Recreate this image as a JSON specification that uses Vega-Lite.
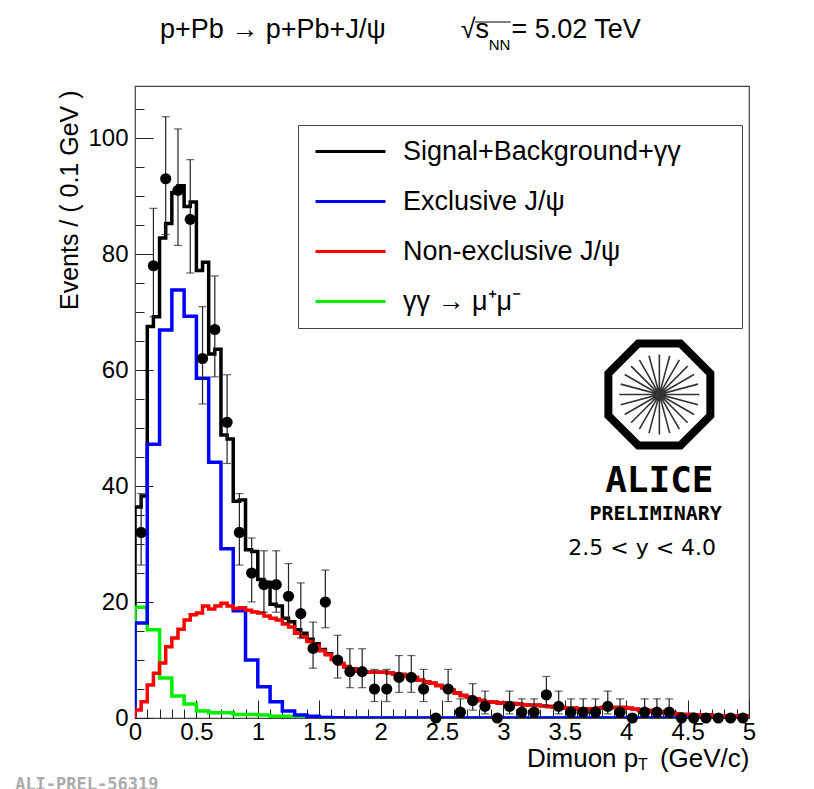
{
  "$schema": "https://vega.github.io/schema/vega-lite/v6.json",
  "width": 614,
  "height": 632,
  "autosize": {"type": "none"},
  "padding": {"left": 135, "top": 86, "right": 65, "bottom": 71},
  "background": "white",
  "config": {"view": {"stroke": "#444", "strokeWidth": 1.2}, "font": "Liberation Sans"},
  "title": {"text": "p+Pb → p+Pb+J/ψ\u00a0\u00a0\u00a0\u00a0\u00a0\u00a0\u00a0\u00a0\u00a0\u00a0√s\u00a0\u00a0\u00a0= 5.02 TeV", "fontSize": 27, "fontWeight": "normal", "font": "Liberation Sans", "color": "black", "anchor": "start", "frame": "group", "baseline": "alphabetic", "dx": 25, "offset": -43.6},
  "datasets": {
    "curves": [
      {"i":0,"x":0,"tot":0,"exc":0,"non":0,"gg":0},
      {"i":1,"x":0,"tot":36.4,"exc":16.4,"non":1.4,"gg":19.1},
      {"i":2,"x":0.05,"tot":38.3,"exc":16.4,"non":2.8,"gg":19.1},
      {"i":3,"x":0.1,"tot":67.5,"exc":47.2,"non":5.7,"gg":15.2},
      {"i":4,"x":0.15,"tot":69.2,"exc":47.2,"non":7.7,"gg":15.2},
      {"i":5,"x":0.2,"tot":82.8,"exc":66.9,"non":9.5,"gg":6.9},
      {"i":6,"x":0.25,"tot":85.3,"exc":66.9,"non":12.3,"gg":6.9},
      {"i":7,"x":0.3,"tot":90.6,"exc":73.8,"non":13.8,"gg":3.8},
      {"i":8,"x":0.35,"tot":91.8,"exc":73.8,"non":15.3,"gg":3.8},
      {"i":9,"x":0.4,"tot":88.2,"exc":69.3,"non":16.9,"gg":2.4},
      {"i":10,"x":0.45,"tot":89.0,"exc":69.3,"non":17.8,"gg":2.4},
      {"i":11,"x":0.5,"tot":77.2,"exc":58.6,"non":18.1,"gg":1.2},
      {"i":12,"x":0.55,"tot":78.6,"exc":58.6,"non":19.3,"gg":1.2},
      {"i":13,"x":0.6,"tot":62.8,"exc":44.1,"non":18.8,"gg":0.9},
      {"i":14,"x":0.65,"tot":63.6,"exc":44.1,"non":19.3,"gg":0.9},
      {"i":15,"x":0.7,"tot":48.8,"exc":29.2,"non":19.8,"gg":0.9},
      {"i":16,"x":0.75,"tot":48.1,"exc":29.2,"non":19.3,"gg":0.9},
      {"i":17,"x":0.8,"tot":37.4,"exc":18.5,"non":18.9,"gg":0.6},
      {"i":18,"x":0.85,"tot":37.6,"exc":18.5,"non":19.0,"gg":0.6},
      {"i":19,"x":0.9,"tot":29.0,"exc":10.0,"non":18.6,"gg":0.6},
      {"i":20,"x":0.95,"tot":28.7,"exc":10.0,"non":18.3,"gg":0.6},
      {"i":21,"x":1.0,"tot":23.9,"exc":5.4,"non":18.1,"gg":0.5},
      {"i":22,"x":1.05,"tot":23.4,"exc":5.4,"non":17.6,"gg":0.5},
      {"i":23,"x":1.1,"tot":19.6,"exc":2.8,"non":17.2,"gg":0.3},
      {"i":24,"x":1.15,"tot":19.3,"exc":2.8,"non":16.9,"gg":0.3},
      {"i":25,"x":1.2,"tot":17.2,"exc":1.2,"non":16.2,"gg":0.3},
      {"i":26,"x":1.25,"tot":16.6,"exc":1.2,"non":15.7,"gg":0.3},
      {"i":27,"x":1.3,"tot":15.2,"exc":0.5,"non":14.6,"gg":0.3},
      {"i":28,"x":1.35,"tot":14.6,"exc":0.5,"non":14.0,"gg":0.3},
      {"i":29,"x":1.4,"tot":13.6,"exc":0.3,"non":13.2,"gg":0.2},
      {"i":30,"x":1.45,"tot":12.8,"exc":0.3,"non":12.4,"gg":0.2},
      {"i":31,"x":1.5,"tot":11.8,"exc":0.1,"non":11.6,"gg":0.1},
      {"i":32,"x":1.55,"tot":11.1,"exc":0.1,"non":10.9,"gg":0.1},
      {"i":33,"x":1.6,"tot":10.2,"exc":0.05,"non":10.1,"gg":0},
      {"i":34,"x":1.65,"tot":9.4,"exc":0.05,"non":9.3,"gg":0},
      {"i":35,"x":1.7,"tot":8.9,"exc":0,"non":8.8,"gg":0},
      {"i":36,"x":1.75,"tot":8.5,"exc":0,"non":8.4,"gg":0},
      {"i":37,"x":1.8,"tot":8.1,"exc":0,"non":8.1,"gg":0},
      {"i":38,"x":1.85,"tot":7.9,"exc":0,"non":7.9,"gg":0},
      {"i":39,"x":1.9,"tot":7.9,"exc":0,"non":7.9,"gg":0},
      {"i":40,"x":1.95,"tot":7.9,"exc":0,"non":7.9,"gg":0},
      {"i":41,"x":2.0,"tot":7.9,"exc":0,"non":7.9,"gg":0},
      {"i":42,"x":2.05,"tot":7.8,"exc":0,"non":7.8,"gg":0},
      {"i":43,"x":2.1,"tot":7.6,"exc":0,"non":7.6,"gg":0},
      {"i":44,"x":2.15,"tot":7.5,"exc":0,"non":7.5,"gg":0},
      {"i":45,"x":2.2,"tot":7.3,"exc":0,"non":7.3,"gg":0},
      {"i":46,"x":2.25,"tot":7.0,"exc":0,"non":7.0,"gg":0},
      {"i":47,"x":2.3,"tot":6.5,"exc":0,"non":6.5,"gg":0},
      {"i":48,"x":2.35,"tot":6.2,"exc":0,"non":6.2,"gg":0},
      {"i":49,"x":2.4,"tot":6.0,"exc":0,"non":6.0,"gg":0},
      {"i":50,"x":2.45,"tot":5.6,"exc":0,"non":5.6,"gg":0},
      {"i":51,"x":2.5,"tot":5.2,"exc":0,"non":5.2,"gg":0},
      {"i":52,"x":2.55,"tot":4.8,"exc":0,"non":4.8,"gg":0},
      {"i":53,"x":2.6,"tot":4.3,"exc":0,"non":4.3,"gg":0},
      {"i":54,"x":2.65,"tot":3.9,"exc":0,"non":3.9,"gg":0},
      {"i":55,"x":2.7,"tot":3.6,"exc":0,"non":3.6,"gg":0},
      {"i":56,"x":2.75,"tot":3.3,"exc":0,"non":3.3,"gg":0},
      {"i":57,"x":2.8,"tot":3.0,"exc":0,"non":3.0,"gg":0},
      {"i":58,"x":2.85,"tot":2.8,"exc":0,"non":2.8,"gg":0},
      {"i":59,"x":2.9,"tot":2.7,"exc":0,"non":2.7,"gg":0},
      {"i":60,"x":2.95,"tot":2.6,"exc":0,"non":2.6,"gg":0},
      {"i":61,"x":3.0,"tot":2.6,"exc":0,"non":2.6,"gg":0},
      {"i":62,"x":3.05,"tot":2.5,"exc":0,"non":2.5,"gg":0},
      {"i":63,"x":3.1,"tot":2.4,"exc":0,"non":2.4,"gg":0},
      {"i":64,"x":3.15,"tot":2.3,"exc":0,"non":2.3,"gg":0},
      {"i":65,"x":3.2,"tot":2.2,"exc":0,"non":2.2,"gg":0},
      {"i":66,"x":3.25,"tot":2.2,"exc":0,"non":2.2,"gg":0},
      {"i":67,"x":3.3,"tot":2.1,"exc":0,"non":2.1,"gg":0},
      {"i":68,"x":3.35,"tot":2.0,"exc":0,"non":2.0,"gg":0},
      {"i":69,"x":3.4,"tot":1.9,"exc":0,"non":1.9,"gg":0},
      {"i":70,"x":3.45,"tot":1.8,"exc":0,"non":1.8,"gg":0},
      {"i":71,"x":3.5,"tot":1.7,"exc":0,"non":1.7,"gg":0},
      {"i":72,"x":3.55,"tot":1.7,"exc":0,"non":1.7,"gg":0},
      {"i":73,"x":3.6,"tot":1.6,"exc":0,"non":1.6,"gg":0},
      {"i":74,"x":3.65,"tot":1.6,"exc":0,"non":1.6,"gg":0},
      {"i":75,"x":3.7,"tot":1.6,"exc":0,"non":1.6,"gg":0},
      {"i":76,"x":3.75,"tot":1.7,"exc":0,"non":1.7,"gg":0},
      {"i":77,"x":3.8,"tot":1.8,"exc":0,"non":1.8,"gg":0},
      {"i":78,"x":3.85,"tot":1.8,"exc":0,"non":1.8,"gg":0},
      {"i":79,"x":3.9,"tot":1.8,"exc":0,"non":1.8,"gg":0},
      {"i":80,"x":3.95,"tot":1.8,"exc":0,"non":1.8,"gg":0},
      {"i":81,"x":4.0,"tot":1.7,"exc":0,"non":1.7,"gg":0},
      {"i":82,"x":4.05,"tot":1.5,"exc":0,"non":1.5,"gg":0},
      {"i":83,"x":4.1,"tot":1.4,"exc":0,"non":1.4,"gg":0},
      {"i":84,"x":4.15,"tot":1.3,"exc":0,"non":1.3,"gg":0},
      {"i":85,"x":4.2,"tot":1.1,"exc":0,"non":1.1,"gg":0},
      {"i":86,"x":4.25,"tot":1.0,"exc":0,"non":1.0,"gg":0},
      {"i":87,"x":4.3,"tot":0.9,"exc":0,"non":0.9,"gg":0},
      {"i":88,"x":4.35,"tot":0.8,"exc":0,"non":0.8,"gg":0},
      {"i":89,"x":4.4,"tot":0.7,"exc":0,"non":0.7,"gg":0},
      {"i":90,"x":4.45,"tot":0.6,"exc":0,"non":0.6,"gg":0},
      {"i":91,"x":4.5,"tot":0.6,"exc":0,"non":0.6,"gg":0},
      {"i":92,"x":4.55,"tot":0.5,"exc":0,"non":0.5,"gg":0},
      {"i":93,"x":4.6,"tot":0.5,"exc":0,"non":0.5,"gg":0},
      {"i":94,"x":4.65,"tot":0.5,"exc":0,"non":0.5,"gg":0},
      {"i":95,"x":4.7,"tot":0.4,"exc":0,"non":0.4,"gg":0},
      {"i":96,"x":4.75,"tot":0.4,"exc":0,"non":0.4,"gg":0},
      {"i":97,"x":4.8,"tot":0.4,"exc":0,"non":0.4,"gg":0},
      {"i":98,"x":4.85,"tot":0.4,"exc":0,"non":0.4,"gg":0},
      {"i":99,"x":4.9,"tot":0.4,"exc":0,"non":0.4,"gg":0},
      {"i":100,"x":4.95,"tot":0.4,"exc":0,"non":0.4,"gg":0},
      {"i":101,"x":5.0,"tot":0.4,"exc":0,"non":0.4,"gg":0}
    ],
    "pts": [
      {"x":0.05,"n":32,"lo":26.38,"hi":38.71},
      {"x":0.15,"n":78,"lo":69.2,"hi":87.9},
      {"x":0.25,"n":93,"lo":83.4,"hi":103.7},
      {"x":0.35,"n":91,"lo":81.5,"hi":101.6},
      {"x":0.45,"n":86,"lo":76.75,"hi":96.3},
      {"x":0.55,"n":62,"lo":54.16,"hi":70.94},
      {"x":0.65,"n":67,"lo":58.84,"hi":76.25},
      {"x":0.75,"n":51,"lo":43.9,"hi":59.2},
      {"x":0.85,"n":32,"lo":26.38,"hi":38.71},
      {"x":0.95,"n":25,"lo":20.03,"hi":31.04},
      {"x":1.05,"n":23,"lo":18.23,"hi":28.84},
      {"x":1.15,"n":23,"lo":18.23,"hi":28.84},
      {"x":1.25,"n":21,"lo":16.45,"hi":26.63},
      {"x":1.35,"n":18,"lo":13.8,"hi":23.29},
      {"x":1.45,"n":12,"lo":8.59,"hi":16.54},
      {"x":1.55,"n":20,"lo":15.56,"hi":25.52},
      {"x":1.65,"n":10,"lo":6.89,"hi":14.26},
      {"x":1.75,"n":8,"lo":5.23,"hi":11.95},
      {"x":1.85,"n":8,"lo":5.23,"hi":11.95},
      {"x":1.95,"n":5,"lo":2.84,"hi":8.38},
      {"x":2.05,"n":5,"lo":2.84,"hi":8.38},
      {"x":2.15,"n":7,"lo":4.42,"hi":10.77},
      {"x":2.25,"n":7,"lo":4.42,"hi":10.77},
      {"x":2.35,"n":5,"lo":2.84,"hi":8.38},
      {"x":2.45,"n":0,"lo":0,"hi":0},
      {"x":2.55,"n":5,"lo":2.84,"hi":8.38},
      {"x":2.65,"n":1,"lo":0.17,"hi":3.3},
      {"x":2.75,"n":3,"lo":1.37,"hi":5.92},
      {"x":2.85,"n":2,"lo":0.71,"hi":4.64},
      {"x":2.95,"n":0,"lo":0,"hi":0},
      {"x":3.05,"n":2,"lo":0.71,"hi":4.64},
      {"x":3.15,"n":1,"lo":0.17,"hi":3.3},
      {"x":3.25,"n":1,"lo":0.17,"hi":3.3},
      {"x":3.35,"n":4,"lo":2.09,"hi":7.16},
      {"x":3.45,"n":2,"lo":0.71,"hi":4.64},
      {"x":3.55,"n":1,"lo":0.17,"hi":3.3},
      {"x":3.65,"n":1,"lo":0.17,"hi":3.3},
      {"x":3.75,"n":1,"lo":0.17,"hi":3.3},
      {"x":3.85,"n":2,"lo":0.71,"hi":4.64},
      {"x":3.95,"n":1,"lo":0.17,"hi":3.3},
      {"x":4.05,"n":0,"lo":0,"hi":0},
      {"x":4.15,"n":1,"lo":0.17,"hi":3.3},
      {"x":4.25,"n":1,"lo":0.17,"hi":3.3},
      {"x":4.35,"n":1,"lo":0.17,"hi":3.3},
      {"x":4.45,"n":0,"lo":0,"hi":0},
      {"x":4.55,"n":0,"lo":0,"hi":0},
      {"x":4.65,"n":0,"lo":0,"hi":0},
      {"x":4.75,"n":0,"lo":0,"hi":0},
      {"x":4.85,"n":0,"lo":0,"hi":0},
      {"x":4.95,"n":0,"lo":0,"hi":0}
    ]
  },
  "resolve": {"axis": {"x": "independent", "y": "independent"}},
  "layer": [
    {
      "data": {"name": "curves"},
      "transform": [{"fold": ["tot", "gg", "exc", "non"], "as": ["series", "v"]}],
      "mark": {"type": "line", "interpolate": "step-after", "strokeWidth": 3.5, "strokeJoin": "miter", "clip": true},
      "encoding": {
        "x": {"field": "x", "type": "quantitative", "scale": {"domain": [0, 5], "nice": false, "zero": false},
          "axis": {"orient": "bottom", "values": [0, 0.5, 1, 1.5, 2, 2.5, 3, 3.5, 4, 4.5, 5], "format": "~g", "ticks": false, "domain": false, "grid": false,
            "labelFontSize": 24, "labelFont": "Liberation Sans", "labelColor": "black", "labelPadding": 2, "labelFlush": false, "labelOverlap": false, "labelBound": false,
            "title": "Dimuon p\u00a0\u00a0\u00a0(GeV/c)", "titleFontSize": 26, "titleFontWeight": "normal", "titleFont": "Liberation Sans", "titleColor": "black",
            "titleAlign": "right", "titleAnchor": "end", "titleX": 614, "titleY": 48, "titleBaseline": "alphabetic"}},
        "y": {"field": "v", "type": "quantitative", "scale": {"domain": [0, 109], "nice": false},
          "axis": {"orient": "left", "values": [0, 20, 40, 60, 80, 100], "ticks": false, "domain": false, "grid": false,
            "labelFontSize": 24, "labelFont": "Liberation Sans", "labelColor": "black", "labelPadding": 7, "labelFlush": false, "labelOverlap": false, "labelBound": false,
            "title": "Events / ( 0.1 GeV )", "titleFontSize": 25, "titleFontWeight": "normal", "titleFont": "Liberation Sans", "titleColor": "black",
            "titleAngle": 270, "titleAlign": "right", "titleBaseline": "top", "titleX": -78, "titleY": 4}},
        "color": {"field": "series", "type": "nominal",
          "scale": {"domain": ["tot", "exc", "non", "gg"], "range": ["#000000", "#0000ff", "#ff0000", "#00ee00"]},
          "legend": {"orient": "none", "legendX": 163, "legendY": 39, "direction": "vertical", "title": null,
            "symbolType": "M-3,0H3", "symbolSize": 544, "symbolStrokeWidth": 3, "symbolOffset": 26,
            "labelFontSize": 27, "labelFont": "Liberation Sans", "labelColor": "black", "labelLimit": 700, "labelOffset": 39,
            "rowPadding": 22, "padding": 13, "strokeColor": "#444", "fillColor": "white",
            "labelExpr": "datum.value == 'tot' ? 'Signal+Background+γγ\u00a0\u2800\u2800' : datum.value == 'exc' ? 'Exclusive J/ψ' : datum.value == 'non' ? 'Non-exclusive J/ψ' : 'γγ → μ⁺μ⁻'"}},
        "order": {"field": "i", "type": "quantitative"}
      }
    },
    {
      "data": {"name": "pts"},
      "transform": [{"filter": "datum.n > 0"}],
      "mark": {"type": "rule", "color": "#222", "strokeWidth": 1.2},
      "encoding": {
        "x": {"field": "x", "type": "quantitative", "scale": {"domain": [0, 5], "nice": false, "zero": false},
          "axis": {"orient": "top", "offset": -632, "values": [0, 0.5, 1, 1.5, 2, 2.5, 3, 3.5, 4, 4.5, 5], "labels": false, "domain": false, "grid": false, "ticks": true, "tickSize": 18, "tickColor": "#222", "tickWidth": 1, "title": null}},
        "y": {"field": "lo", "type": "quantitative", "scale": {"domain": [0, 109], "nice": false},
          "axis": {"orient": "right", "offset": -614, "values": [0, 20, 40, 60, 80, 100], "labels": false, "domain": false, "grid": false, "ticks": true, "tickSize": 18, "tickColor": "#222", "tickWidth": 1, "title": null}},
        "y2": {"field": "hi"}
      }
    },
    {
      "data": {"name": "pts"},
      "transform": [{"filter": "datum.n > 0"}],
      "mark": {"type": "tick", "orient": "horizontal", "color": "#222", "size": 8, "thickness": 1.2},
      "encoding": {
        "x": {"field": "x", "type": "quantitative", "scale": {"domain": [0, 5], "nice": false, "zero": false},
          "axis": {"orient": "top", "offset": -632, "values": [0.1,0.2,0.3,0.4,0.6,0.7,0.8,0.9,1.1,1.2,1.3,1.4,1.6,1.7,1.8,1.9,2.1,2.2,2.3,2.4,2.6,2.7,2.8,2.9,3.1,3.2,3.3,3.4,3.6,3.7,3.8,3.9,4.1,4.2,4.3,4.4,4.6,4.7,4.8,4.9], "labels": false, "domain": false, "grid": false, "ticks": true, "tickSize": 9, "tickColor": "#222", "tickWidth": 1, "title": null}},
        "y": {"field": "hi", "type": "quantitative", "scale": {"domain": [0, 109], "nice": false},
          "axis": {"orient": "right", "offset": -614, "values": [5,10,15,25,30,35,45,50,55,65,70,75,85,90,95,105], "labels": false, "domain": false, "grid": false, "ticks": true, "tickSize": 9, "tickColor": "#222", "tickWidth": 1, "title": null}}
      }
    },
    {
      "data": {"name": "pts"},
      "transform": [{"filter": "datum.n > 0"}],
      "mark": {"type": "tick", "orient": "horizontal", "color": "#222", "size": 8, "thickness": 1.2},
      "encoding": {
        "x": {"field": "x", "type": "quantitative", "axis": null},
        "y": {"field": "lo", "type": "quantitative", "axis": null}
      }
    },
    {
      "data": {"name": "pts"},
      "mark": {"type": "point", "shape": "circle", "filled": true, "color": "black", "size": 125, "opacity": 1},
      "encoding": {
        "x": {"field": "x", "type": "quantitative", "axis": null},
        "y": {"field": "n", "type": "quantitative", "axis": null}
      }
    },
    {
      "data": {"values": [{}]},
      "mark": {"type": "point", "shape": "M-0.414,-1L0.414,-1L1,-0.414L1,0.414L0.414,1L-0.414,1L-1,0.414L-1,-0.414Z", "filled": false, "stroke": "black", "strokeWidth": 8, "strokeJoin": "miter", "size": 10400, "opacity": 1},
      "encoding": {
        "x": {"datum": 4.27, "type": "quantitative", "axis": null},
        "y": {"datum": 55.8, "type": "quantitative", "axis": null}
      }
    },
    {
      "data": {"values": [{}]},
      "mark": {"type": "point", "shape": "M1,0L-1,0M0.966,0.259L-0.966,-0.259M0.866,0.5L-0.866,-0.5M0.707,0.707L-0.707,-0.707M0.5,0.866L-0.5,-0.866M0.259,0.966L-0.259,-0.966M0,1L0,-1M-0.259,0.966L0.259,-0.966M-0.5,0.866L0.5,-0.866M-0.707,0.707L0.707,-0.707M-0.866,0.5L0.866,-0.5M-0.966,0.259L0.966,-0.259", "filled": false, "stroke": "#333", "strokeWidth": 1.6, "size": 6400, "opacity": 1},
      "encoding": {
        "x": {"datum": 4.27, "type": "quantitative", "axis": null},
        "y": {"datum": 55.8, "type": "quantitative", "axis": null}
      }
    },
    {
      "data": {"values": [{}]},
      "mark": {"type": "text", "text": "ALICE", "font": "DejaVu Sans Mono", "fontWeight": "bold", "fontSize": 36, "align": "center", "baseline": "middle", "color": "black"},
      "encoding": {
        "x": {"datum": 4.27, "type": "quantitative", "axis": null},
        "y": {"datum": 40.8, "type": "quantitative", "axis": null}
      }
    },
    {
      "data": {"values": [{}]},
      "mark": {"type": "text", "text": "PRELIMINARY", "font": "DejaVu Sans Mono", "fontWeight": "bold", "fontSize": 20, "align": "center", "baseline": "middle", "color": "black"},
      "encoding": {
        "x": {"datum": 4.24, "type": "quantitative", "axis": null},
        "y": {"datum": 35.2, "type": "quantitative", "axis": null}
      }
    },
    {
      "data": {"values": [{}]},
      "mark": {"type": "text", "text": "2.5 < y < 4.0", "font": "DejaVu Sans", "fontSize": 22, "align": "center", "baseline": "middle", "color": "black"},
      "encoding": {
        "x": {"datum": 4.13, "type": "quantitative", "axis": null},
        "y": {"datum": 29.3, "type": "quantitative", "axis": null}
      }
    },
    {
      "data": {"values": [{}]},
      "mark": {"type": "text", "text": "NN", "font": "Liberation Sans", "fontSize": 15, "align": "left", "baseline": "alphabetic", "color": "black"},
      "encoding": {
        "x": {"datum": 2.88, "type": "quantitative", "axis": null},
        "y": {"datum": 115.2, "type": "quantitative", "axis": null}
      }
    },
    {
      "data": {"values": [{}]},
      "mark": {"type": "rule", "color": "black", "strokeWidth": 1.2},
      "encoding": {
        "x": {"datum": 2.769, "type": "quantitative", "axis": null},
        "x2": {"datum": 3.06},
        "y": {"datum": 120.04, "type": "quantitative", "axis": null}
      }
    },
    {
      "data": {"values": [{}]},
      "mark": {"type": "text", "text": "T", "font": "Liberation Sans", "fontSize": 16, "align": "left", "baseline": "alphabetic", "color": "black"},
      "encoding": {
        "x": {"datum": 4.096, "type": "quantitative", "axis": null},
        "y": {"datum": -9.0, "type": "quantitative", "axis": null}
      }
    },
    {
      "data": {"values": [{}]},
      "mark": {"type": "text", "text": "ALI-PREL-56319", "font": "DejaVu Sans Mono", "fontWeight": "bold", "fontSize": 17, "align": "left", "baseline": "top", "color": "#aaa"},
      "encoding": {
        "x": {"datum": -0.976, "type": "quantitative", "axis": null},
        "y": {"datum": -10.1, "type": "quantitative", "axis": null}
      }
    }
  ]
}
